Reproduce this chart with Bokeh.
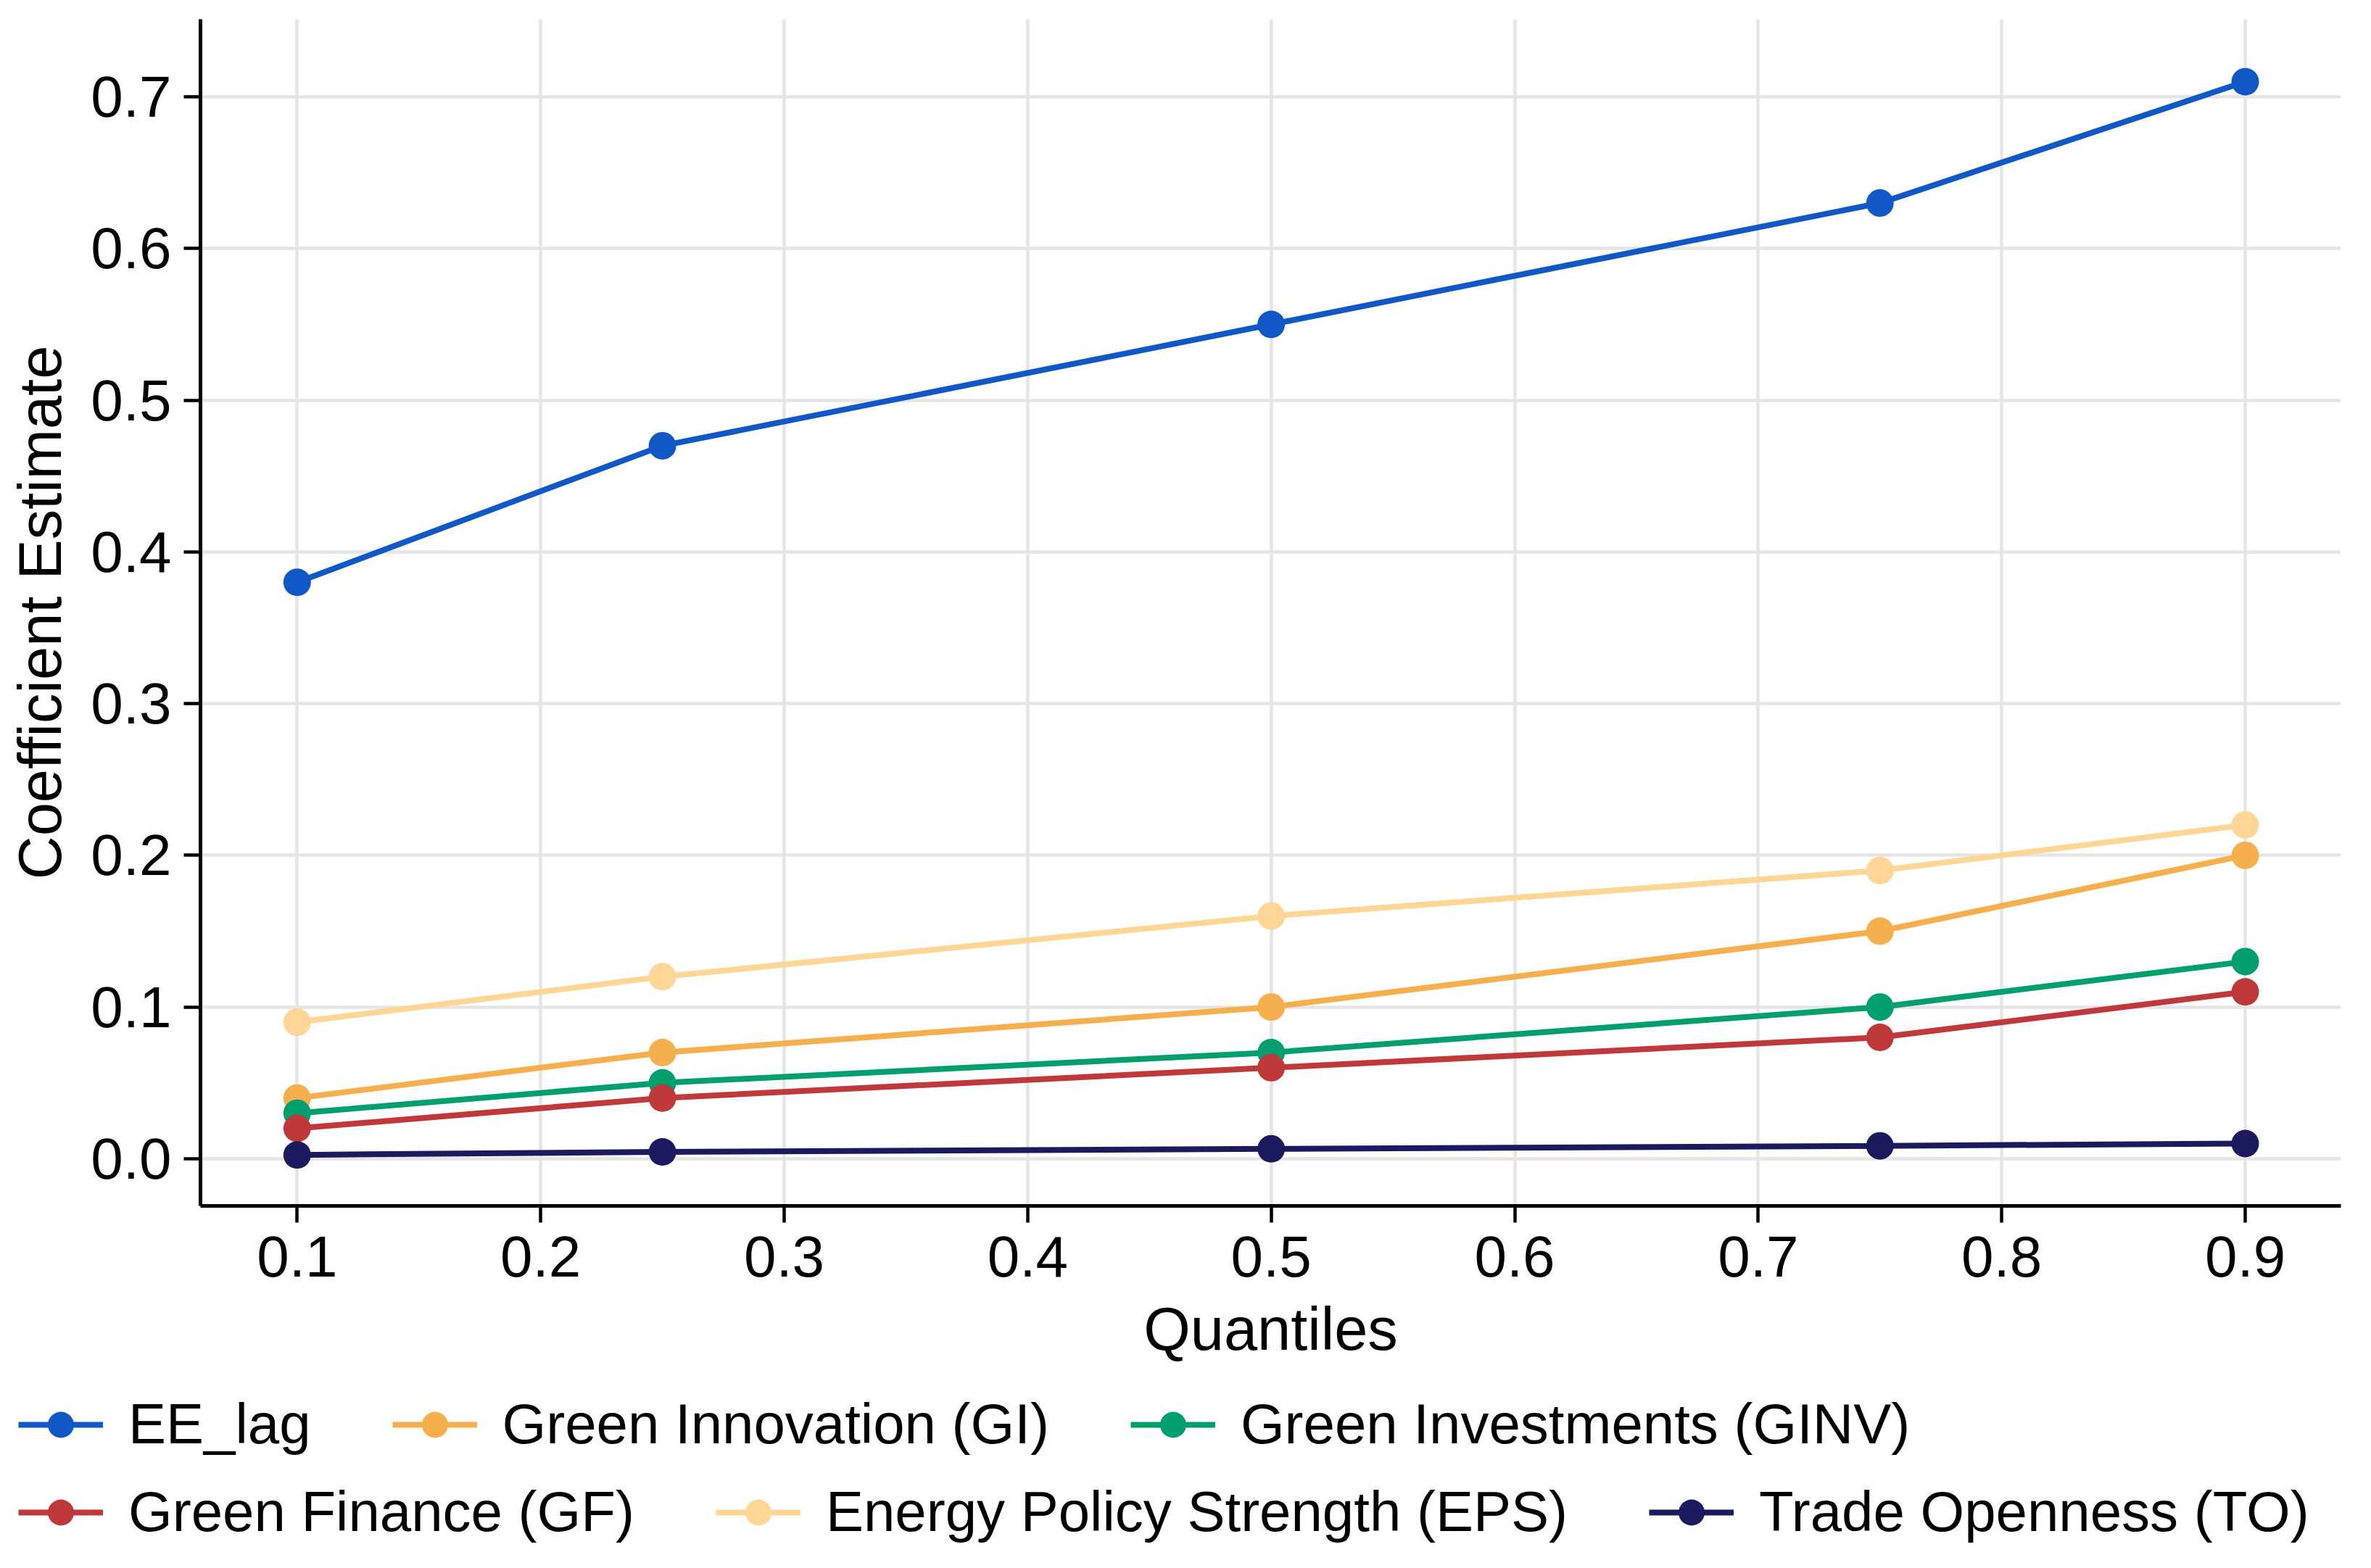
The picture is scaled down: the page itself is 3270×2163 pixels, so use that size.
from bokeh.plotting import figure
from bokeh.layouts import column
from bokeh.models import Legend, LegendItem, FixedTicker, PrintfTickFormatter, Range1d
from bokeh.embed import file_html
from bokeh.resources import INLINE

# ---- data ----
quantiles = [0.1, 0.25, 0.5, 0.75, 0.9]
ee_lag = [0.38, 0.47, 0.55, 0.63, 0.71]
green_innovation = [0.04, 0.07, 0.10, 0.15, 0.20]
green_investments = [0.03, 0.05, 0.07, 0.10, 0.13]
green_finance = [0.02, 0.04, 0.06, 0.08, 0.11]
energy_policy = [0.09, 0.12, 0.16, 0.19, 0.22]
trade_openness = [0.0025, 0.0045, 0.0065, 0.0085, 0.0100]

series_names = ["EE_lag", "Green Innovation (GI)", "Green Investments (GINV)",
                "Green Finance (GF)", "Energy Policy Strength (EPS)", "Trade Openness (TO)"]
series_values = [ee_lag, green_innovation, green_investments,
                 green_finance, energy_policy, trade_openness]
series_colors = ["#1158C7", "#F5AF4D", "#009F6D", "#BF383A", "#FED695", "#1B1A5F"]

x_ticks = [0.1, 0.2, 0.3, 0.4, 0.5, 0.6, 0.7, 0.8, 0.9]
y_ticks = [0.0, 0.1, 0.2, 0.3, 0.4, 0.5, 0.6, 0.7]

FONT = "Liberation Sans"
W = 3254
H_MAIN = 1927
OVERLAP = 22
H_LEG = 2147 - H_MAIN + OVERLAP

p = figure(width=W, height=H_MAIN, output_backend="svg", toolbar_location=None,
           x_range=Range1d(0.0603, 0.9393), y_range=Range1d(-0.0311, 0.7512),
           min_border_left=276, min_border_right=26, min_border_top=26,
           min_border_bottom=H_MAIN - 1663)
p.frame_align = False
p.outline_line_color = None
p.background_fill_color = "white"
p.border_fill_color = "white"

for ax in (p.xaxis[0], p.yaxis[0]):
    ax.axis_line_width = 5
    ax.axis_line_color = "black"
    ax.major_tick_line_width = 4.5
    ax.major_tick_line_color = "black"
    ax.major_tick_out = 23
    ax.major_tick_in = 0
    ax.minor_tick_line_color = None
    ax.major_label_text_font = FONT
    ax.major_label_text_font_size = "80px"
    ax.major_label_text_color = "black"
    ax.axis_label_text_font = FONT
    ax.axis_label_text_font_size = "83px"
    ax.axis_label_text_font_style = "normal"
    ax.axis_label_text_color = "black"
    ax.formatter = PrintfTickFormatter(format="%.1f")

p.xaxis[0].ticker = FixedTicker(ticks=x_ticks)
p.yaxis[0].ticker = FixedTicker(ticks=y_ticks)
p.xaxis[0].axis_label = "Quantiles"
p.yaxis[0].axis_label = "Coefficient Estimate"
p.xaxis[0].major_label_standoff = 19
p.xaxis[0].axis_label_standoff = 23
p.yaxis[0].major_label_standoff = 17
p.yaxis[0].axis_label_standoff = 20

p.xgrid[0].grid_line_color = "#E5E5E5"
p.xgrid[0].grid_line_width = 4.5
p.ygrid[0].grid_line_color = "#E5E5E5"
p.ygrid[0].grid_line_width = 4.5

for name, vals, col in zip(series_names, series_values, series_colors):
    p.line(quantiles, vals, line_color=col, line_width=8)
    p.scatter(quantiles, vals, size=38, fill_color=col, line_color=None)

# ---- legend strip below the chart (keys reference series styled like the chart's) ----
pl = figure(width=W, height=H_LEG, output_backend="svg", toolbar_location=None,
            x_range=Range1d(5, 6), y_range=Range1d(5, 6),
            x_axis_type=None, y_axis_type=None, min_border=0)
pl.frame_align = False
pl.margin = (-OVERLAP, 0, 0, 0)
pl.outline_line_color = None
pl.background_fill_alpha = 0
pl.border_fill_alpha = 0

items = []
for name, vals, col in zip(series_names, series_values, series_colors):
    lr = pl.line(quantiles, vals, line_color=col, line_width=8)
    sr = pl.scatter(quantiles, vals, size=38, fill_color=col, line_color=None)
    items.append(LegendItem(label=name, renderers=[lr, sr]))

def make_legend(its, loc):
    return Legend(items=its, orientation="horizontal", location=loc,
                  label_text_font=FONT, label_text_font_size="78px", label_text_color="black",
                  glyph_width=117, glyph_height=90, label_standoff=35, spacing=112,
                  padding=0, margin=0, border_line_color=None, background_fill_alpha=0)

pl.add_layout(make_legend(items[:3], (25, 137)), "center")
pl.add_layout(make_legend(items[3:], (25, 16)), "center")

layout = column(p, pl, spacing=0)
open("out.html", "w").write(file_html(layout, INLINE))
